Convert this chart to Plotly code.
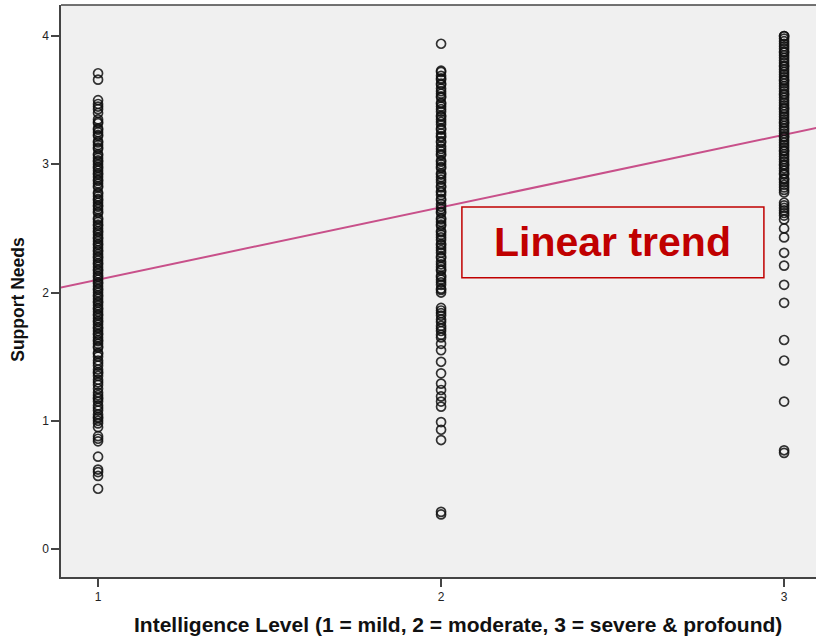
import plotly.graph_objects as go

# Support Needs scores per intelligence level group
level1_y = [0.47, 0.57, 0.60, 0.62, 0.72, 0.84, 0.86, 0.88, 0.95, 0.98, 1.00, 1.03, 1.05, 1.08,
            1.12, 1.15, 1.18, 1.20, 1.25, 1.28, 1.32, 1.35, 1.38, 1.40, 1.43, 1.47, 1.50, 1.53,
            1.57, 1.60, 1.62, 1.65, 1.68, 1.70, 1.72, 1.75, 1.78, 1.80, 1.83, 1.85, 1.88, 1.90,
            1.93, 1.95, 1.98, 2.00, 2.03, 2.05, 2.08, 2.10, 2.12, 2.15, 2.18, 2.20, 2.23, 2.25,
            2.28, 2.30, 2.33, 2.35, 2.38, 2.40, 2.43, 2.45, 2.48, 2.50, 2.53, 2.55, 2.58, 2.62,
            2.65, 2.68, 2.70, 2.73, 2.75, 2.78, 2.82, 2.85, 2.88, 2.90, 2.93, 2.95, 2.98, 3.00,
            3.03, 3.05, 3.08, 3.12, 3.15, 3.18, 3.22, 3.25, 3.28, 3.32, 3.35, 3.40, 3.43, 3.47,
            3.50, 3.66, 3.71,
            1.02, 1.10, 1.17, 1.22, 1.30, 1.37, 1.45, 1.52, 1.58, 1.63, 1.67, 1.73, 1.77, 1.82,
            1.87, 1.92, 1.97, 2.02, 2.07, 2.13, 2.17, 2.22, 2.27, 2.32, 2.37, 2.42, 2.47, 2.52,
            2.57, 2.63, 2.67, 2.72, 2.77, 2.83, 2.87, 2.92, 2.97, 3.02, 3.07, 3.13, 3.17, 3.23,
            3.27, 3.33, 3.45]
level2_y = [0.27, 0.29, 0.85, 0.93, 0.99, 1.11, 1.15, 1.19, 1.24, 1.29, 1.37, 1.46, 1.55, 1.60,
            1.65, 1.70, 1.74, 1.79, 1.84, 1.88, 2.00, 2.03, 2.06, 2.10, 2.13, 2.17, 2.20, 2.24,
            2.27, 2.31, 2.35, 2.38, 2.41, 2.45, 2.48, 2.52, 2.55, 2.58, 2.62, 2.65, 2.69, 2.72,
            2.76, 2.79, 2.83, 2.86, 2.90, 2.93, 2.97, 3.00, 3.03, 3.07, 3.10, 3.14, 3.17, 3.21,
            3.24, 3.28, 3.31, 3.35, 3.38, 3.41, 3.45, 3.48, 3.52, 3.55, 3.59, 3.62, 3.66, 3.69,
            3.73, 3.94,
            2.02, 2.08, 2.12, 2.18, 2.22, 2.28, 2.33, 2.37, 2.43, 2.47, 2.53, 2.57, 2.63, 2.67,
            2.73, 2.78, 2.82, 2.88, 2.92, 2.98, 3.02, 3.08, 3.12, 3.18, 3.22, 3.27, 3.33, 3.37,
            3.43, 3.47, 3.53, 3.57, 3.63, 3.67, 3.72, 1.67, 1.72, 1.77, 1.82, 1.86]
level3_y = [0.75, 0.77, 1.15, 1.47, 1.63, 1.92, 2.06, 2.21, 2.31, 2.43, 2.50, 2.57, 2.62, 2.66,
            2.70, 2.78, 2.82, 2.86, 2.89, 2.93, 2.97, 3.00, 3.04, 3.08, 3.11, 3.15, 3.19, 3.22,
            3.26, 3.30, 3.33, 3.37, 3.41, 3.44, 3.48, 3.52, 3.55, 3.59, 3.63, 3.66, 3.70, 3.74,
            3.77, 3.81, 3.85, 3.88, 3.92, 3.96, 4.00,
            2.80, 2.84, 2.88, 2.92, 2.95, 2.99, 3.02, 3.06, 3.10, 3.13, 3.17, 3.21, 3.24, 3.28,
            3.32, 3.35, 3.39, 3.43, 3.46, 3.50, 3.54, 3.57, 3.61, 3.65, 3.68, 3.72, 3.76, 3.79,
            3.83, 3.87, 3.90, 3.94, 3.98, 4.00, 2.60, 2.64, 2.68]

levels = [1, 2, 3]
groups = [level1_y, level2_y, level3_y]

# Linear trend fit (intercept, slope) and span
trend_intercept = 1.535
trend_slope = 0.565
trend_x = [0.85, 3.15]
trend_y = [trend_intercept + trend_slope * x for x in trend_x]

x_ticks = [1, 2, 3]
y_ticks = [0, 1, 2, 3, 4]

xs, ys = [], []
for lv, g in zip(levels, groups):
    xs += [lv] * len(g)
    ys += g

fig = go.Figure()
fig.add_trace(go.Scatter(
    x=trend_x, y=trend_y, mode="lines",
    line=dict(color="#C8508A", width=2), hoverinfo="skip", showlegend=False))
fig.add_trace(go.Scatter(
    x=xs, y=ys, mode="markers",
    marker=dict(symbol="circle-open", size=9, color="rgba(15,15,15,0.85)",
                line=dict(width=1.7, color="rgba(15,15,15,0.85)")),
    showlegend=False))

axis_font = dict(family="Liberation Sans, Arial, sans-serif", size=12, color="#222222")
fig.update_layout(
    width=816, height=637,
    margin=dict(l=61, r=0, t=5, b=60),
    paper_bgcolor="white",
    plot_bgcolor="#F0F0F0",
    showlegend=False,
    xaxis=dict(range=[0.892, 3.093], tickvals=x_ticks, ticktext=[str(v) for v in x_ticks],
               showgrid=False, zeroline=False, showline=True, linecolor="#444444", linewidth=1.5,
               ticks="outside", ticklen=8, tickwidth=1.5, tickcolor="#444444",
               tickfont=axis_font),
    yaxis=dict(range=[-0.218, 4.242], tickvals=y_ticks, ticktext=[str(v) for v in y_ticks],
               showgrid=False, zeroline=False, showline=True, linecolor="#444444", linewidth=1.5,
               ticks="outside", ticklen=8, tickwidth=1.5, tickcolor="#444444",
               tickfont=axis_font),
    shapes=[
        dict(type="line", xref="paper", yref="paper", x0=0, x1=1, y0=1, y1=1,
             line=dict(color="#444444", width=1.5)),
        dict(type="rect", xref="paper", yref="paper", x0=0.531, x1=0.931, y0=0.523, y1=0.647,
             line=dict(color="#C00000", width=1.5), fillcolor="rgba(0,0,0,0)"),
    ],
    annotations=[
        dict(text="<b>Linear trend</b>", xref="paper", yref="paper", x=0.731, y=0.585,
             showarrow=False, xanchor="center", yanchor="middle",
             font=dict(family="Liberation Sans, Arial, sans-serif", size=41, color="#C00000")),
        dict(text="<b>Intelligence Level (1 = mild, 2 = moderate, 3 = severe &amp; profound)</b>",
             xref="paper", yref="paper", x=0.526, y=-0.083, showarrow=False,
             xanchor="center", yanchor="middle",
             font=dict(family="Liberation Sans, Arial, sans-serif",
                       size=21, color="#111111")),
        dict(text="<b>Support Needs</b>", xref="paper", yref="paper", x=-0.058, y=0.485,
             showarrow=False, textangle=-90, xanchor="center", yanchor="middle",
             font=dict(family="Liberation Sans, Arial, sans-serif",
                       size=17.5, color="#111111")),
    ],
)

fig.write_html("out.html")
